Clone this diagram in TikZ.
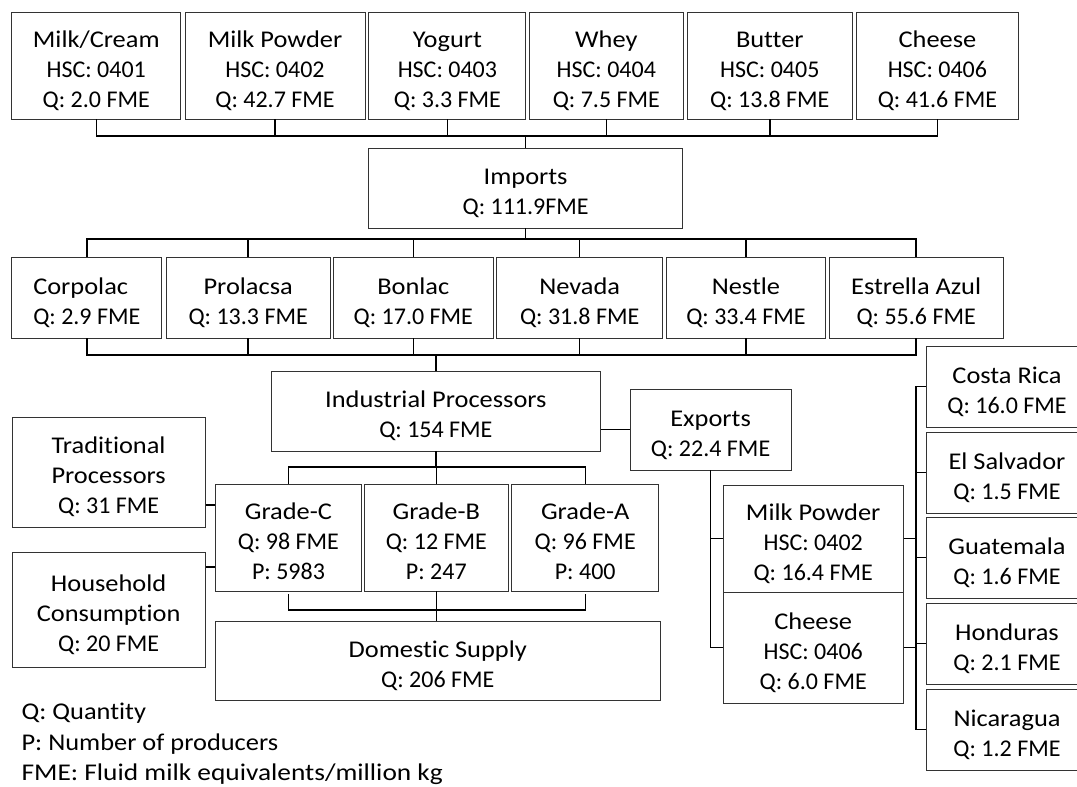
\documentclass[tikz,border=0pt]{standalone}
\usepackage{fontspec}
\setmainfont[Ligatures=NoCommon]{Carlito}
\newfontfamily\wide[FakeStretch=1.1,Ligatures=NoCommon]{Carlito}
\newfontfamily\wider[FakeStretch=1.14,Ligatures=NoCommon]{Carlito}
\newcommand\fsz{\fontsize{24}{30}\selectfont}
\newcommand\bt[2][c]{\raisebox{-5.5pt}[\height][\depth]{\begin{tabular}{@{}#1@{}}#2\end{tabular}}}
\begin{document}
\begin{tikzpicture}[x=1pt,y=-1pt,
  box/.style={draw=black!80, line width=0.9pt, align=center, inner sep=2pt, font=\fsz},
  bx/.style 2 args={box, minimum width=#1pt, minimum height=#2pt},
  conn/.style={draw=black, line width=1.4pt},
  lbl/.style={anchor=west, inner sep=0pt, font=\fsz\wide}]
\useasboundingbox (0,0) rectangle (1077,787);
\clip (0,0) rectangle (1077,787);
% top row
\node[bx={169.1}{107}] (mc) at (96.25,65.5) {\bt{\wide Milk/Cream\\HSC: 0401\\Q: 2.0 FME}};
\node[bx={180}{107}] (mp) at (275,65.5) {\bt{\wide Milk Powder\\HSC: 0402\\Q: 42.7 FME}};
\node[bx={157}{107}] (yog) at (447.4,65.5) {\bt{\wide Yogurt\\HSC: 0403\\Q: 3.3 FME}};
\node[bx={154.1}{107}] (whey) at (606.35,65.5) {\bt{\wide Whey\\HSC: 0404\\Q: 7.5 FME}};
\node[bx={164.6}{107}] (butter) at (769.8,65.5) {\bt{\wide Butter\\HSC: 0405\\Q: 13.8 FME}};
\node[bx={162.2}{107}] (cheese) at (937.4,65.5) {\bt{\wide Cheese\\HSC: 0406\\Q: 41.6 FME}};
% imports
\node[bx={314.2}{80}] (imports) at (525.6,188) {\bt{\wide Imports\\Q: 111.9FME}};
% processors row
\node[bx={150.2}{81}] (corp) at (86.8,297.5) {\bt[l]{\wide Corpolac\\Q: 2.9 FME}};
\node[bx={163.7}{81}] (prol) at (248.15,297.5) {\bt{\wide Prolacsa\\Q: 13.3 FME}};
\node[bx={159.8}{81}] (bon) at (413.3,297.5) {\bt{\wide Bonlac\\Q: 17.0 FME}};
\node[bx={166.1}{81}] (nev) at (579.65,297.5) {\bt{\wide Nevada\\Q: 31.8 FME}};
\node[bx={159.4}{81}] (nest) at (745.9,297.5) {\bt{\wide Nestle\\Q: 33.4 FME}};
\node[bx={174.3}{81}] (estr) at (916.15,297.5) {\bt{\wide Estrella Azul\\Q: 55.6 FME}};
% industrial and exports
\node[bx={329.7}{80}] (ip) at (435.85,411) {\bt{\wide Industrial Processors\\Q: 154 FME}};
\node[bx={161.2}{81}] (exp) at (710.6,429.5) {\bt{\wide Exports\\Q: 22.4 FME}};
% left side
\node[bx={193.3}{110}] (trad) at (108.65,472) {\bt{\wide Traditional\\\wide Processors\\Q: 31 FME}};
\node[bx={193.3}{115}] (house) at (108.65,609.5) {\bt{\wide Household\\\wide Consumption\\Q: 20 FME}};
% grades
\node[bx={145.7}{107}] (gc) at (288.45,537.5) {\bt{\wide Grade-C\\Q: 98 FME\\P: 5983}};
\node[bx={143.9}{107}] (gb) at (436.35,537.5) {\bt{\wide Grade-B\\Q: 12 FME\\P: 247}};
\node[bx={146.8}{107}] (ga) at (585.2,537.5) {\bt{\wide Grade-A\\Q: 96 FME\\P: 400}};
\node[bx={445}{79}] (dom) at (437.8,660.5) {\bt{\wide Domestic Supply\\Q: 206 FME}};
% export products
\node[bx={179.8}{107}] (mexp) at (813.2,538.5) {\bt{\wide Milk Powder\\HSC: 0402\\Q: 16.4 FME}};
\node[bx={179.8}{111}] (cexp) at (813.2,647.5) {\bt{\wide Cheese\\HSC: 0406\\Q: 6.0 FME}};
% countries
\node[bx={161.6}{81}] (costa) at (1007,386.5) {\bt{\wide Costa Rica\\Q: 16.0 FME}};
\node[bx={161.6}{81}] (elsal) at (1007,472.5) {\bt{\wide El Salvador\\Q: 1.5 FME}};
\node[bx={161.6}{81}] (guat) at (1007,557.5) {\bt{\wide Guatemala\\Q: 1.6 FME}};
\node[bx={161.6}{81}] (hond) at (1007,643.5) {\bt{\wide Honduras\\Q: 2.1 FME}};
\node[bx={161.6}{81}] (nic) at (1007,729.5) {\bt{\wide Nicaragua\\Q: 1.2 FME}};
% legend
\node[lbl] (l1) at (21.4,713) {Q: Quantity};
\node[lbl] (l2) at (21.4,744) {P: Number of producers};
\node[lbl, font=\fsz\wider] (l3) at (21.4,774) {FME: Fluid milk equivalents/million kg};
% bus coordinates
\coordinate (b1) at (0,136);
\coordinate (b2) at (0,239);
\coordinate (b3) at (0,355);
\coordinate (b4) at (0,467);
\coordinate (b5) at (0,610);
\coordinate (t1) at (0,505);
\coordinate (t2) at (0,567);
\coordinate (vx) at (915.8,0);
% connectors
\draw[conn] (mc.south) |- (b1 -| cheese.south) -- (cheese.south);
\foreach \n in {mp,yog,whey,butter} \draw[conn] (\n.south) -- (\n.south |- b1);
\draw[conn] (imports.north) -- (imports.north |- b1);
\draw[conn] (corp.north) |- (b2 -| estr.north) -- (estr.north);
\foreach \n in {prol,bon,nev,nest} \draw[conn] (\n.north) -- (\n.north |- b2);
\draw[conn] (imports.south) -- (imports.south |- b2);
\draw[conn] (corp.south) |- (b3 -| estr.south) -- (estr.south);
\foreach \n in {prol,bon,nev,nest} \draw[conn] (\n.south) -- (\n.south |- b3);
\draw[conn] (ip.north) -- (ip.north |- b3);
\draw[conn] (exp.west) -- (exp.west -| ip.east);
\draw[conn] (ip.south) -- (ip.south |- b4);
\draw[conn] (gc.north) |- (b4 -| ga.north) -- (ga.north);
\draw[conn] (gb.north) -- (gb.north |- b4);
\draw[conn] (trad.east |- t1) -- (gc.west |- t1);
\draw[conn] (house.east |- t2) -- (gc.west |- t2);
\draw[conn] ([yshift=-3pt]gc.south) |- (b5 -| ga.south) -- ([yshift=-3pt]ga.south);
\draw[conn] (gb.south) -- (dom.north -| gb.south);
\draw[conn] (exp.south) |- (cexp.west);
\draw[conn] (mexp.west) -- (mexp.west -| exp.south);
\draw[conn] (mexp.east) -- (mexp.east -| vx);
\draw[conn] (cexp.east) -- (cexp.east -| vx);
\draw[conn] (costa.west) -- (costa.west -| vx) -- (nic.west -| vx) -- (nic.west);
\foreach \n in {elsal,guat,hond} \draw[conn] (\n.west) -- (\n.west -| vx);
\end{tikzpicture}
\end{document}
